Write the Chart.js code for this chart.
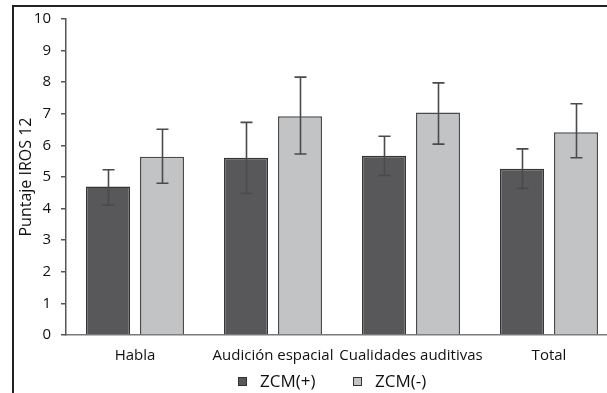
<!DOCTYPE html>
<html>
<head>
<meta charset="utf-8">
<script src="https://cdn.jsdelivr.net/npm/chart.js@4"></script>
<style>
  body { margin: 0; background: #fff; }
  #wrap { position: relative; width: 607px; height: 393px; overflow: hidden; }
  #frame { position: absolute; left: 12px; top: 5px; width: 600px; height: 400px;
           border-left: 2px solid #222; border-top: 2px solid #222; }
  #legend { position: absolute; top: 369px; left: 238px; font: 500 17px "Open Sans", sans-serif; color: #111; }
  #legend span.item { position: absolute; white-space: nowrap; }
  #legend i { position: absolute; top: 8px; width: 7px; height: 7px; border: 1px solid #333; }
</style>
</head>
<body>
<div id="wrap">
  <canvas id="my-chart" width="620" height="393"></canvas>
  <div id="frame"></div>
  <div id="legend"></div>
</div>
<script>
"use strict";

const categories = ["Habla", "Audición espacial", "Cualidades auditivas", "Total"];
const seriesNames = ["ZCM(+)", "ZCM(-)"];
const yTicks = [0, 1, 2, 3, 4, 5, 6, 7, 8, 9, 10];

// mean values
const zcmPos = [4.70, 5.61, 5.67, 5.26];
const zcmNeg = [5.64, 6.92, 7.04, 6.42];
// error bar ends (low / high)
const zcmPosLow = [4.11, 4.48, 5.05, 4.64];
const zcmPosHigh = [5.23, 6.73, 6.29, 5.89];
const zcmNegLow = [4.80, 5.73, 6.04, 5.61];
const zcmNegHigh = [6.51, 8.16, 7.98, 7.32];

const fillColors = ["#58585a", "#c2c3c5"];
const errLow = [zcmPosLow, zcmNegLow];
const errHigh = [zcmPosHigh, zcmNegHigh];

// draws the error bars over each bar
const errorBars = {
  id: "errorBars",
  afterDatasetsDraw(chart) {
    const ctx = chart.ctx;
    const y = chart.scales.y;
    ctx.save();
    ctx.strokeStyle = "#4a4a4a";
    ctx.lineWidth = 1.6;
    chart.data.datasets.forEach((ds, d) => {
      const meta = chart.getDatasetMeta(d);
      meta.data.forEach((bar, i) => {
        const x = Math.round(bar.x) + 0.5;
        const top = y.getPixelForValue(errHigh[d][i]);
        const bot = y.getPixelForValue(errLow[d][i]);
        ctx.beginPath();
        ctx.moveTo(x, top);
        ctx.lineTo(x, bot);
        ctx.moveTo(x - 6, top);
        ctx.lineTo(x + 6, top);
        ctx.moveTo(x - 6, bot);
        ctx.lineTo(x + 6, bot);
        ctx.stroke();
      });
    });
    ctx.restore();
  }
};

const ctx = document.getElementById("my-chart");
const myChart = new Chart(ctx, {
  type: "bar",
  data: {
    labels: categories,
    datasets: [
      {
        label: seriesNames[0],
        data: zcmPos,
        backgroundColor: fillColors[0],
        borderColor: "#353535",
        borderWidth: 1.5,
        categoryPercentage: 0.783,
        barPercentage: 0.815
      },
      {
        label: seriesNames[1],
        data: zcmNeg,
        backgroundColor: fillColors[1],
        borderColor: "#4a4a4a",
        borderWidth: 1.5,
        categoryPercentage: 0.783,
        barPercentage: 0.815
      }
    ]
  },
  options: {
    responsive: false,
    animation: false,
    layout: { padding: { left: 0, right: 2, top: 14, bottom: 0 } },
    plugins: {
      legend: { display: false },
      tooltip: { enabled: false }
    },
    scales: {
      x: {
        grid: { display: false },
        border: { display: true, color: "#7a7a7a", width: 1.5 },
        ticks: {
          color: "#111",
          padding: 4,
          maxRotation: 0,
          autoSkip: false,
          font: { family: "Open Sans", size: 15, weight: "500" }
        },
        afterFit(s) { s.height = 58; }
      },
      y: {
        min: 0,
        max: 10,
        afterBuildTicks(s) { s.ticks = yTicks.map(v => ({ value: v })); },
        grid: { drawOnChartArea: false, drawTicks: true, tickLength: 5, color: "#555", lineWidth: 1.5 },
        border: { display: true, color: "#555", width: 1.5 },
        ticks: {
          color: "#111",
          padding: 10,
          font: { family: "Open Sans", size: 15, weight: "500" }
        },
        title: {
          display: true,
          text: "Puntaje IROS 12",
          color: "#111",
          font: { family: "Open Sans", size: 16, weight: "500" },
          padding: { top: 17, bottom: 0 }
        },
        afterFit(s) { s.width = 66; }
      }
    }
  },
  plugins: [errorBars]
});

// legend as html below the axis
const legendOffsets = [0, 115];
const legendEl = document.getElementById("legend");
seriesNames.forEach((name, i) => {
  const item = document.createElement("span");
  item.className = "item";
  item.style.left = legendOffsets[i] + "px";
  const box = document.createElement("i");
  box.style.background = fillColors[i];
  item.appendChild(box);
  const txt = document.createElement("span");
  txt.style.marginLeft = "22px";
  txt.textContent = name;
  item.appendChild(txt);
  legendEl.appendChild(item);
});
</script>
</body>
</html>
